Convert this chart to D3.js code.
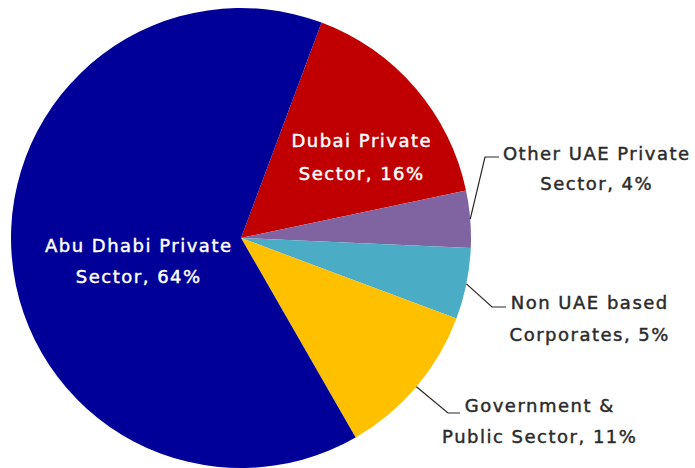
<!DOCTYPE html>
<html>
<head>
<meta charset="utf-8">
<script src="https://cdn.jsdelivr.net/npm/d3@7"></script>
<style>
  html, body { margin: 0; padding: 0; background: #fff; }
  svg { display: block; }
</style>
</head>
<body>
<svg id="chart" width="695" height="468"></svg>
<script>
// Portfolio split by sector (percent)
const sectors = [
  "Dubai Private Sector",
  "Other UAE Private Sector",
  "Non UAE based Corporates",
  "Government & Public Sector",
  "Abu Dhabi Private Sector"
];
const shares = [16, 4, 5, 11, 64];
const colors = ["#C00000", "#8064A2", "#4BACC6", "#FFC000", "#000099"];
// Label text, split into lines
const labelLines = [
  ["Dubai Private", "Sector, 16%"],
  ["Other UAE Private", "Sector, 4%"],
  ["Non UAE based", "Corporates, 5%"],
  ["Government &", "Public Sector, 11%"],
  ["Abu Dhabi Private", "Sector, 64%"]
];

const svg = d3.select("#chart");
const cx = 241, cy = 238, r = 230;
const g = svg.append("g").attr("transform", `translate(${cx},${cy})`);

const start = 20.5 * Math.PI / 180;
const pie = d3.pie()
  .sort(null)
  .value(d => d)
  .startAngle(start)
  .endAngle(start + 2 * Math.PI);
const arcs = pie(shares);
const arc = d3.arc().innerRadius(0).outerRadius(r);

g.selectAll("path.slice")
  .data(arcs)
  .join("path")
  .attr("class", "slice")
  .attr("d", arc)
  .attr("fill", (d, i) => colors[i]);

// Label placement: inside labels for the two large slices,
// outside labels with leader lines for the small ones
const font = "'DejaVu Sans', Verdana, sans-serif";
const fontSize = 18;
const spacing = 1.5;
const labelPos = [
  { x: 361, y: 147, inside: true },
  { x: 596, y: 160, inside: false },
  { x: 589, y: 309, inside: false },
  { x: 539, y: 412, inside: false },
  { x: 138, y: 252, inside: true }
];
const lineGap = [33, 30, 32, 31, 31];

labelPos.forEach((p, i) => {
  const x = p.x + spacing / 2;
  const fill = p.inside ? "#ffffff" : "#2b2b2b";
  const t = svg.append("text")
    .attr("x", x)
    .attr("y", p.y)
    .attr("text-anchor", "middle")
    .attr("font-family", font)
    .attr("font-size", fontSize)
    .attr("letter-spacing", spacing)
    .attr("fill", fill)
    .attr("stroke", fill)
    .attr("stroke-width", 0.45);
  labelLines[i].forEach((s, k) => {
    t.append("tspan").attr("x", x).attr("y", p.y + k * lineGap[i]).text(s);
  });
});

// Leader lines: from the slice's outer edge to a short horizontal run beside the label
const leaderEnds = [
  null,
  [[485, 157], [499, 157]],
  [[492, 307], [506, 307]],
  [[448, 413], [460, 413]],
  null
];
arcs.forEach((a, i) => {
  if (!leaderEnds[i]) return;
  const mid = (a.startAngle + a.endAngle) / 2;
  const ex = cx + r * Math.sin(mid), ey = cy - r * Math.cos(mid);
  svg.append("path")
    .attr("d", d3.line()([[ex, ey], ...leaderEnds[i]]))
    .attr("fill", "none")
    .attr("stroke", "#262626")
    .attr("stroke-width", 1.2);
});
</script>
</body>
</html>
